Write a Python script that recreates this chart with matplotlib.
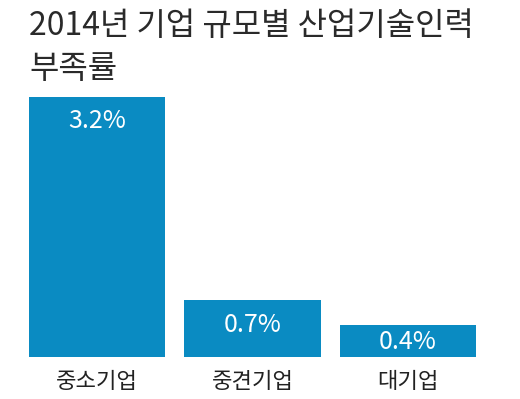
import matplotlib.pyplot as plt

plt.rcParams['font.family'] = ['Noto Sans CJK KR', 'DejaVu Sans']

# data
categories = ['중소기업', '중견기업', '대기업']
rates = [3.2, 0.7, 0.4]
labels = ['3.2%', '0.7%', '0.4%']

fig = plt.figure(figsize=(5.2, 3.99), dpi=100)
ax = fig.add_axes([29 / 520, 1 - 357 / 399, 447 / 520, (357 - 97) / 399])

x = range(len(categories))
bars = ax.bar(x, rates, width=0.877, color='#0a8bc2')

ax.set_xlim(-0.4387, 2.4387)
ax.set_ylim(0, 3.2)

# value labels inside the bars (short bars get the label pushed lower)
for b, lab in zip(bars, labels):
    h = b.get_height()
    ypos = max(h - 0.3, h * 0.45)
    ax.text(b.get_x() + b.get_width() / 2, ypos, lab,
            ha='center', va='center', color='white', fontsize=18)

ax.set_xticks(list(x))
ax.set_xticklabels(categories, fontsize=16, color='#222222')
ax.tick_params(axis='x', length=0, pad=9)
ax.set_yticks([])
for s in ax.spines.values():
    s.set_visible(False)

# title
fig.text(29 / 520, 1 - 10 / 399, '2014년 기업 규모별 산업기술인력\n부족률',
         ha='left', va='top', fontsize=23, color='#2a2a2a',
         linespacing=1.45, fontweight='medium')

fig.savefig('out.png', dpi=100)
